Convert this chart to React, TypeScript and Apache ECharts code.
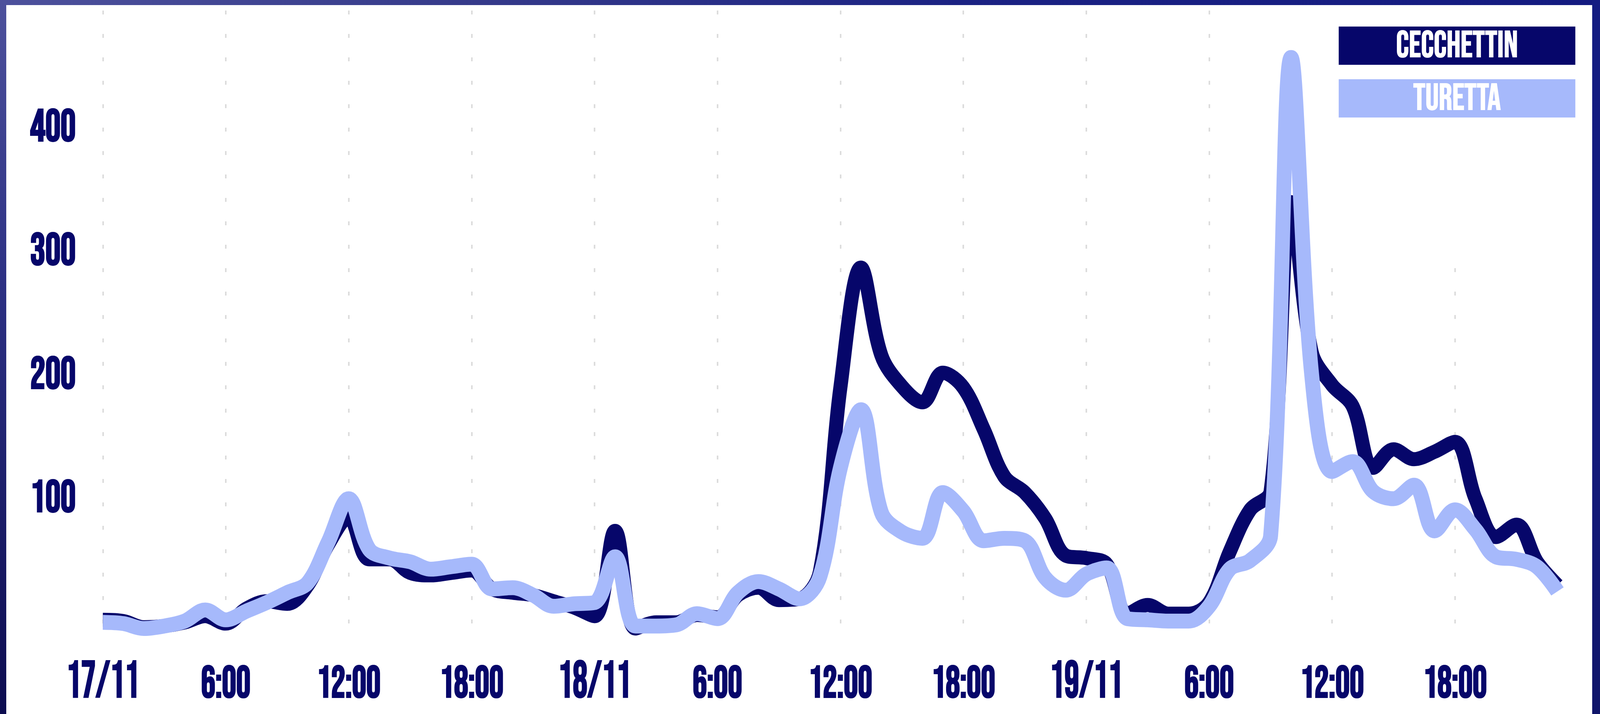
import React, { useEffect, useRef, useState } from "react";
import * as echarts from "echarts";

const days = ["17/11", "18/11", "19/11"];
const hoursPerDay = 24;

const cecchettin = [
  7, 6, 1, 2, 5, 10, 4, 16, 22, 20, 35, 68, 90, 56, 56, 45, 43, 45, 47, 32, 29, 27, 22, 17,
  10, 79, 0, 5, 5, 11, 9, 27, 33, 23, 24, 46, 195, 292, 221, 196, 183, 207, 195, 161, 123, 110, 89, 59,
  57, 52, 12, 19, 12, 12, 21, 62, 96, 111, 345, 224, 197, 180, 130, 145, 137, 143, 151, 105, 74, 84, 54, 35,
];

const turetta = [
  5, 4, 0, 2, 6, 15, 7, 14, 21, 29, 37, 70, 105, 64, 57, 54, 48, 50, 52, 32, 33, 27, 18, 20,
  21, 58, 2, 2, 3, 12, 8, 29, 38, 32, 24, 42, 130, 177, 94, 78, 73, 110, 95, 71, 73, 71, 41, 31,
  44, 49, 8, 7, 6, 6, 18, 48, 55, 75, 462, 206, 127, 135, 111, 105, 116, 79, 96, 80, 58, 56, 50, 30,
];

const seriesNames = ["CECCHETTIN", "TURETTA"];
const yTicks = [100, 200, 300, 400];

const DARK = "#06066a";
const LIGHT = "#a6b9fb";
const FONT = "'Bebas Neue', 'League Gothic', 'Oswald', sans-serif";

const categories: string[] = [];
days.forEach((d) => {
  for (let h = 0; h < hoursPerDay; h++) categories.push(h === 0 ? d : `${h}:00`);
});

// design size of the reference picture
const REF_W = 4605;
const REF_H = 1829;

// horizontal narrowing of the label glyphs, per kind of label
function squeezeFor(text: string): number {
  if (/^\d+\/\d+$/.test(text)) return 0.8;
  if (/:\d\d$/.test(text)) return 0.9;
  if (/^\d+$/.test(text)) return 0.94;
  return 1;
}

export default function App() {
  const outer = useRef<HTMLDivElement>(null);
  const ref = useRef<HTMLDivElement>(null);
  const [size, setSize] = useState<{ w: number; h: number } | null>(null);

  useEffect(() => {
    const el = outer.current;
    if (!el) return;
    setSize({ w: el.clientWidth, h: el.clientHeight });
  }, []);

  useEffect(() => {
    if (!size || !ref.current) return;
    const sx = size.w / REF_W;
    const sy = size.h / REF_H;
    const X = (v: number) => v * sx;
    const Y = (v: number) => v * sy;
    const chart = echarts.init(ref.current, null, { renderer: "svg" });
    const showTick = (i: number) => i % 6 === 0;
    const legendRich = (bg: string) => ({
      backgroundColor: bg,
      color: "#ffffff",
      width: X(681),
      height: Y(98),
      lineHeight: Y(98),
      align: "center",
      fontSize: Y(96),
      fontFamily: FONT,
      textBorderColor: "#ffffff",
      textBorderWidth: 2,
    });
    const labelText = (size: number, pad: number) => ({
      fontSize: Y(size),
      color: DARK,
      fontFamily: FONT,
      padding: [Y(pad), 0, 0, 0],
      textBorderColor: DARK,
      textBorderWidth: 4,
    });
    chart.setOption({
      animation: false,
      backgroundColor: "#ffffff",
      grid: { left: X(278), right: X(100), top: Y(14), bottom: Y(219), containLabel: false },
      legend: {
        data: seriesNames,
        orient: "vertical",
        left: X(3835) - 5,
        top: Y(55),
        itemGap: Y(37),
        padding: 0,
        icon: "none",
        itemWidth: 0,
        itemHeight: 0,
        selectedMode: false,
        formatter: (name: string) => (name === seriesNames[0] ? `{c|${name}}` : `{t|${name}}`),
        textStyle: { rich: { c: legendRich(DARK), t: legendRich(LIGHT) } },
      },
      graphic: {
        elements: [
          { type: "rect", z: 1, shape: { x: X(3742), y: 0, width: X(900), height: Y(670) }, style: { fill: "#ffffff" }, silent: true },
        ],
      },
      xAxis: {
        type: "category",
        data: categories,
        boundaryGap: false,
        axisLine: { show: false },
        axisTick: { show: false },
        splitLine: { show: true, interval: (i: number) => showTick(i), lineStyle: { color: "#dcdcdc", width: 4, type: [10, 50] } },
        axisLabel: {
          interval: (i: number) => showTick(i),
          margin: Y(134),
          verticalAlign: "middle",
          formatter: (v: string) => (v.indexOf("/") >= 0 ? `{d|${v}}` : `{h|${v}}`),
          rich: {
            d: labelText(132, 4),
            h: labelText(114, 16),
          },
        },
      },
      yAxis: {
        type: "value",
        min: 0,
        max: 500,
        interval: 100,
        splitLine: { show: false },
        axisLine: { show: false },
        axisTick: { show: false },
        axisLabel: {
          formatter: (v: number) => (yTicks.indexOf(v) >= 0 ? String(v) : ""),
          align: "left",
          margin: X(209),
          verticalAlign: "bottom",
          lineHeight: Y(34),
          color: DARK,
          fontSize: Y(116),
          fontFamily: FONT,
          textBorderColor: DARK,
          textBorderWidth: 4,
        },
      },
      series: [
        { name: seriesNames[0], type: "line", data: cecchettin, symbol: "none", smooth: 0.35, itemStyle: { color: DARK }, lineStyle: { color: DARK, width: 36 }, z: 2 },
        { name: seriesNames[1], type: "line", data: turetta, symbol: "none", smooth: 0.35, itemStyle: { color: LIGHT }, lineStyle: { color: LIGHT, width: 38 }, z: 3 },
      ],
    });

    // narrow the condensed labels horizontally around their own anchor point
    const narrow = () => {
      if (!ref.current) return;
      const texts = Array.from(ref.current.querySelectorAll("svg text")) as SVGTextElement[];
      texts.forEach((t) => {
        if (t.getAttribute("data-orig-tr") === null) t.setAttribute("data-orig-tr", t.getAttribute("transform") || "");
        const orig = t.getAttribute("data-orig-tr") || "";
        const x = parseFloat(t.getAttribute("x") || "0") || 0;
        const y = parseFloat(t.getAttribute("y") || "0") || 0;
        const k = squeezeFor((t.textContent || "").trim()) * sx;
        t.setAttribute("transform", `${orig} translate(${x} ${y}) scale(${k} 1) translate(${-x} ${-y})`.trim());
      });
    };
    narrow();
    chart.on("finished", narrow);
    return () => chart.dispose();
  }, [size]);

  const sx = size ? size.w / REF_W : 1;
  const sy = size ? size.h / REF_H : 1;

  return (
    <div ref={outer} style={{ position: "fixed", left: 0, top: 0, width: "100vw", height: "100vh", overflow: "hidden", background: "#ffffff" }}>
      <div style={{ position: "absolute", left: 0, top: 0, width: "100%", height: 13 * sy, background: "linear-gradient(to right, #4d519c 0%, #353a8a 30%, #1b2283 60%, #131a80 100%)" }} />
      <div style={{ position: "absolute", left: 0, top: 0, width: 18 * sx, height: "100%", background: "linear-gradient(to bottom, #4d519c 0%, #2c3083 40%, #0c0c50 100%)" }} />
      <div style={{ position: "absolute", right: 0, top: 0, width: 22 * sx, height: "100%", background: "linear-gradient(to bottom, #141c82 0%, #141b7c 60%, #10156a 100%)" }} />
      {size && (
        <div ref={ref} style={{ position: "absolute", left: 18 * sx, top: 13 * sy, width: size.w - 40 * sx, height: size.h - 13 * sy, background: "#ffffff" }} />
      )}
    </div>
  );
}
